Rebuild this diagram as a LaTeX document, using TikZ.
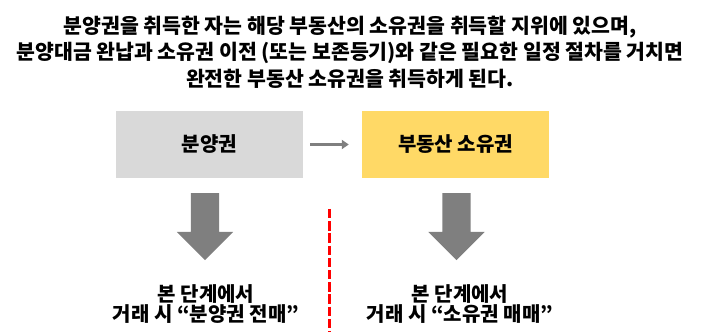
\documentclass[tikz,border=0pt]{standalone}
\usepackage{fontspec}
\setmainfont{Noto Sans CJK KR}
\usepackage{xcolor}
\usepackage{tikz}
\usetikzlibrary{positioning, arrows.meta, shapes.arrows}

\definecolor{boxgray}{HTML}{D9D9D9}
\definecolor{boxyellow}{HTML}{FFD966}
\definecolor{arrowgray}{HTML}{7F7F7F}

\begin{document}
\begin{tikzpicture}[
  x=1pt, y=1pt,
  font=\bfseries,
  stage/.style={rectangle, minimum width=187pt, minimum height=67pt,
                inner sep=0pt, font=\fontsize{20}{22}\bfseries},
  presale/.style={stage, fill=boxgray},
  ownership/.style={stage, fill=boxyellow},
  flow/.style={draw=arrowgray, line width=3pt,
               -{Triangle[length=7pt, width=9pt]}},
  downarrow/.style={single arrow, rotate=-90, fill=arrowgray,
                    inner xsep=0pt, inner ysep=14pt,
                    minimum height=67pt, minimum width=56pt,
                    single arrow head extend=14pt, anchor=tail},
  note/.style={align=center, inner sep=0pt, font=\fontsize{20}{20.5}\bfseries}
]
\useasboundingbox (0,0) rectangle (701,334);

\node[align=center, inner sep=0pt, font=\fontsize{20.5}{26.5}\bfseries] (title) at (350,282)
  {분양권을 취득한 자는 해당 부동산의 소유권을 취득할 지위에 있으며,\\
   분양대금 완납과 소유권 이전 (또는 보존등기)와 같은 필요한 일정 절차를 거치면\\
   완전한 부동산 소유권을 취득하게 된다.};

\node[presale]   (bunyang) at (209.5,189.5) {분양권};
\node[ownership] (soyu)    at (455.5,189.5) {부동산 소유권};

\draw[flow, shorten <=7pt, shorten >=13pt] (bunyang) -- (soyu);

\node[downarrow] (downl) at (205,141) {};
\node[downarrow] (downr) at (456.5,141) {};

\coordinate (cuttop) at (329,125);
\coordinate (cutbot) at (329,2);
\draw[red, line width=3pt, dash pattern=on 9.5pt off 2.7pt] (cuttop) -- (cutbot);

\node[note] (notel) at (206,30) {본 단계에서\\거래 시 “분양권 전매”};
\node[note] (noter) at (460,30) {본 단계에서\\거래 시 “소유권 매매”};
\end{tikzpicture}
\end{document}
